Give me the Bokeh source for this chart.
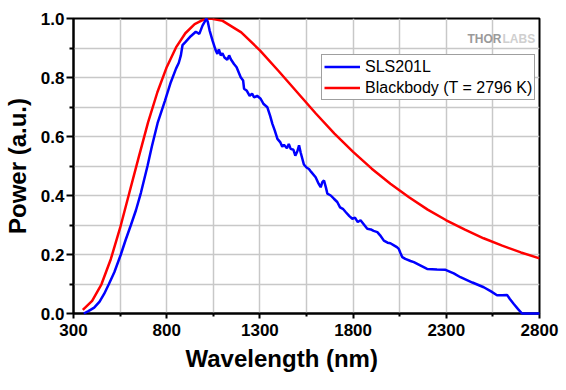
from bokeh.plotting import figure
from bokeh.models import (Range1d, FixedTicker, PrintfTickFormatter, Legend,
                          LegendItem, Title, Label)
from bokeh.embed import file_html
from bokeh.resources import INLINE

# ---- data ----
bb_wavelength = [350, 400, 450, 500, 550, 600, 650, 700, 750, 800, 850, 900, 950,
                 1000, 1036, 1100, 1200, 1300, 1400, 1500, 1600, 1700, 1800, 1900,
                 2000, 2100, 2200, 2300, 2400, 2500, 2600, 2700, 2800]
bb_power = [0.012, 0.043, 0.099, 0.184, 0.29, 0.41, 0.53, 0.648, 0.75, 0.835, 0.902,
            0.95, 0.981, 0.997, 1.0, 0.992, 0.953, 0.892, 0.822, 0.75, 0.678, 0.61,
            0.548, 0.491, 0.44, 0.394, 0.352, 0.316, 0.284, 0.255, 0.23, 0.207, 0.187]

sls_wavelength = [355, 380, 411, 440, 465, 490, 519, 554, 580, 608, 635, 662, 697, 720,
                  751, 790, 822, 850, 865, 876, 885, 900, 929, 956, 975, 992, 1005,
                  1012, 1020, 1030, 1046, 1063, 1072, 1080, 1090, 1099, 1110, 1125,
                  1135, 1144, 1161, 1175, 1197, 1210, 1215, 1230, 1245, 1258, 1269,
                  1285, 1304, 1320, 1340, 1355, 1367, 1380, 1394, 1410, 1420, 1429,
                  1445, 1455, 1465, 1480, 1490, 1501, 1510, 1519, 1536, 1550, 1563,
                  1575, 1599, 1615, 1626, 1635, 1644, 1655, 1662, 1680, 1697, 1715,
                  1730, 1745, 1760, 1780, 1796, 1810, 1825, 1840, 1860, 1876, 1895,
                  1910, 1930, 1945, 1965, 1985, 2000, 2019, 2035, 2045, 2054, 2064,
                  2080, 2108, 2126, 2160, 2197, 2250, 2296, 2340, 2376, 2440, 2501,
                  2540, 2572, 2600, 2626, 2640, 2661, 2685, 2706, 2800]
sls_power = [0.0, 0.008, 0.02, 0.04, 0.067, 0.10, 0.14, 0.20, 0.25, 0.30, 0.35, 0.41,
             0.50, 0.565, 0.645, 0.72, 0.784, 0.83, 0.85, 0.875, 0.91, 0.92, 0.94, 0.955,
             0.948, 0.976, 0.99, 1.0, 0.99, 0.96, 0.925, 0.892, 0.88, 0.895, 0.875,
             0.882, 0.868, 0.86, 0.875, 0.862, 0.846, 0.835, 0.801, 0.79, 0.762, 0.755,
             0.738, 0.745, 0.733, 0.738, 0.728, 0.71, 0.699, 0.67, 0.643, 0.62, 0.592,
             0.58, 0.565, 0.572, 0.56, 0.575, 0.558, 0.555, 0.535, 0.55, 0.57, 0.545,
             0.505, 0.495, 0.49, 0.48, 0.462, 0.44, 0.428, 0.445, 0.451, 0.425, 0.406,
             0.4, 0.389, 0.378, 0.36, 0.355, 0.344, 0.33, 0.321, 0.325, 0.31, 0.316,
             0.3, 0.287, 0.285, 0.28, 0.276, 0.265, 0.247, 0.24, 0.238, 0.231, 0.225,
             0.219, 0.205, 0.191, 0.185, 0.178, 0.174, 0.163, 0.151, 0.149, 0.148,
             0.136, 0.123, 0.105, 0.089, 0.075, 0.062, 0.062, 0.063, 0.05, 0.033,
             0.015, 0.0, 0.0]

x_major = [300, 800, 1300, 1800, 2300, 2800]
x_minor = [550, 1050, 1550, 2050, 2550]
y_major = [0.0, 0.2, 0.4, 0.6, 0.8, 1.0]
y_minor = [0.1, 0.3, 0.5, 0.7, 0.9]

FONT = "Liberation Sans"
GRID = "#c8c8c8"

p = figure(frame_width=466, frame_height=295,
           x_range=Range1d(300, 2800), y_range=Range1d(0, 1),
           output_backend="svg", toolbar_location=None,
           min_border_left=72, min_border_top=18, min_border_right=24,
           min_border_bottom=4)
p.background_fill_color = "white"
p.border_fill_color = "white"
p.outline_line_color = "black"
p.outline_line_width = 2

r_bb = p.line(bb_wavelength, bb_power, line_color="#ff0000", line_width=2.5)
r_sls = p.line(sls_wavelength, sls_power, line_color="#0000ff", line_width=2.5)
r_sls.level = "overlay"

# axes
p.xaxis.ticker = FixedTicker(ticks=x_major, minor_ticks=x_minor)
p.yaxis.ticker = FixedTicker(ticks=y_major, minor_ticks=y_minor)
p.yaxis.formatter = PrintfTickFormatter(format="%.1f")
for ax in (p.xaxis, p.yaxis):
    ax.axis_line_color = "black"
    ax.axis_line_width = 2
    ax.major_tick_line_color = "black"
    ax.minor_tick_line_color = "black"
    ax.major_tick_line_width = 2
    ax.minor_tick_line_width = 2
    ax.major_tick_in = 0
    ax.minor_tick_in = 0
    ax.major_label_text_font = FONT
    ax.major_label_text_font_style = "bold"
    ax.major_label_text_font_size = "17px"
    ax.major_label_text_color = "black"
    ax.axis_label_text_font = FONT
    ax.axis_label_text_font_style = "bold"
    ax.axis_label_text_font_size = "24px"
    ax.axis_label_text_color = "black"

p.xaxis.major_tick_out = 5
p.xaxis.minor_tick_out = 3
p.xaxis.major_label_standoff = 5
p.yaxis.major_tick_out = 7
p.yaxis.minor_tick_out = 4
p.yaxis.major_label_standoff = 2
p.yaxis.axis_label = "Power (a.u.)"
p.yaxis.axis_label_standoff = 7

# grid
for g in (p.xgrid, p.ygrid):
    g.grid_line_color = GRID
    g.grid_line_width = 1.5
    g.minor_grid_line_color = GRID
    g.minor_grid_line_width = 1.5

# x label placed as a title below (left-shifted like the reference)
xt = Title(text="Wavelength (nm)", align="left", offset=112,
           text_font=FONT, text_font_style="bold", text_font_size="24px",
           text_color="black", standoff=9)
p.add_layout(xt, "below")

# legend
legend = Legend(items=[LegendItem(label="SLS201L", renderers=[r_sls]),
                       LegendItem(label="Blackbody (T = 2796 K)", renderers=[r_bb])],
                location=(248, 213), margin=0, padding=2, spacing=2,
                glyph_width=36, glyph_height=19, label_height=19,
                label_standoff=5, label_text_font=FONT,
                label_text_font_size="16px", label_text_color="black",
                border_line_color="#404040", border_line_width=1.5,
                background_fill_color="white", background_fill_alpha=1.0)
p.add_layout(legend)

# logo text
p.add_layout(Label(x=394, y=275, x_units="screen", y_units="screen", text="THOR",
                   text_font=FONT, text_font_style="bold", text_font_size="12px",
                   text_color="#9a9a9a", text_baseline="alphabetic"))
p.add_layout(Label(x=429, y=275, x_units="screen", y_units="screen", text="LABS",
                   text_font=FONT, text_font_style="bold", text_font_size="12px",
                   text_color="#cfcfcf", text_baseline="alphabetic"))

open("out.html", "w").write(file_html(p, INLINE))
